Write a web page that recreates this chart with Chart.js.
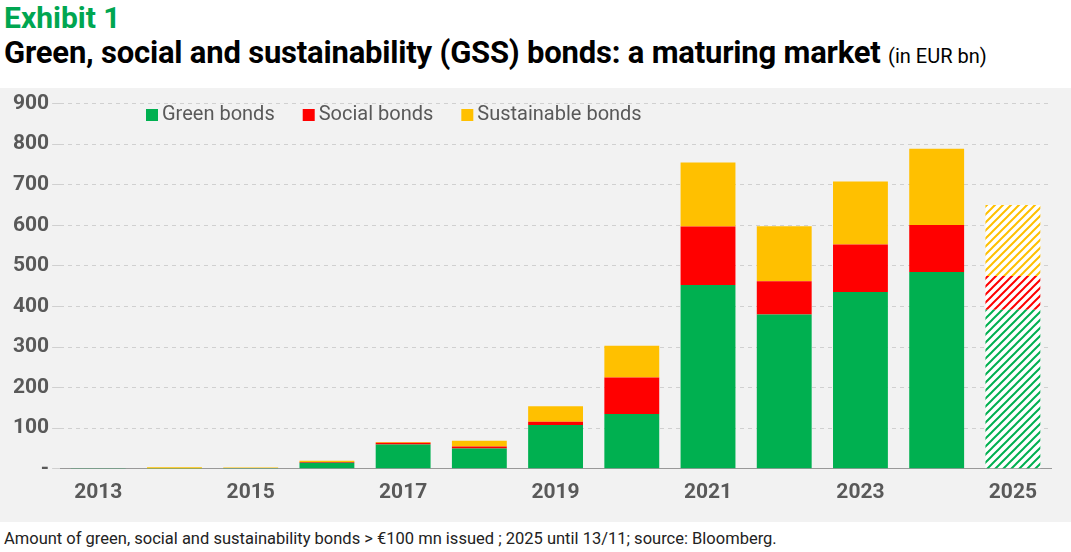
<!DOCTYPE html>
<html><head><meta charset="utf-8">
<script src="https://cdn.jsdelivr.net/npm/chart.js@4"></script>
<style>
body{margin:0;width:1071px;height:552px;background:#fff;font-family:Roboto,sans-serif;overflow:hidden;position:relative}
#t1{position:absolute;left:4px;top:0px;font:bold 30px Roboto;color:#00a651}
#t2{position:absolute;left:4px;top:34px;font:bold 31px Roboto;color:#000;letter-spacing:-0.2px}
#t2 span{font-weight:normal;font-size:20px;letter-spacing:0}
#panel{position:absolute;left:0;top:88px;width:1071px;height:434px;background:#f2f2f2}
#foot{position:absolute;left:4px;top:529px;font:16.5px Roboto;color:#222}
</style></head><body>
<div id="t1">Exhibit 1</div>
<div id="t2">Green, social and sustainability (GSS) bonds: a maturing market <span>(in EUR bn)</span></div>
<div id="panel"><canvas id="c" width="1071" height="434"></canvas></div>
<div id="foot">Amount of green, social and sustainability bonds &gt; €100 mn issued ; 2025 until 13/11; source: Bloomberg.</div>
<script>
const years = ['2013','2014','2015','2016','2017','2018','2019','2020','2021','2022','2023','2024','2025'];
const green = [2, 1, 2, 15, 60, 50, 108, 135, 453, 380, 436, 485, 392];
const social = [0, 0, 0, 2, 4, 5, 8, 90, 144, 82, 117, 116, 83];
const sustainable = [0, 3, 1, 3, 2, 14, 38, 78, 158, 136, 155, 188, 175];
const legendItems = [['Green bonds', '#00b050'], ['Social bonds', '#ff0000'], ['Sustainable bonds', '#ffc000']];

function hatch(color) {
    const p = document.createElement('canvas');
    p.width = 8; p.height = 8;
    const g = p.getContext('2d');
    g.fillStyle = '#fff'; g.fillRect(0, 0, 8, 8);
    g.strokeStyle = color; g.lineWidth = 2;
    g.beginPath();
    g.moveTo(0, 8); g.lineTo(8, 0);
    g.moveTo(-2, 2); g.lineTo(2, -2);
    g.moveTo(6, 10); g.lineTo(10, 6);
    g.stroke();
    return g.createPattern(p, 'repeat');
}
const fills = (c) => years.map((y, i) => i === years.length - 1 ? hatch(c) : c);

new Chart(document.getElementById('c'), {
    type: 'bar',
    data: {
        labels: years,
        datasets: legendItems.map(([label, c], k) => ({
            label, data: [green, social, sustainable][k], backgroundColor: fills(c),
        })),
    },
    options: {
        responsive: false,
        animation: false,
        layout: { padding: { left: 10, right: 20, top: 8, bottom: 14 } },
        datasets: { bar: { categoryPercentage: 0.72, barPercentage: 1 } },
        scales: {
            x: {
                stacked: true,
                grid: { display: false },
                border: { color: '#999' },
                ticks: {
                    autoSkip: false, maxRotation: 0,
                    color: '#595959', font: { size: 21, weight: 'bold', family: 'Roboto' },
                    callback: (v, i) => i % 2 === 0 ? years[i] : '',
                },
            },
            y: {
                stacked: true, min: 0, max: 900,
                border: { display: false, dash: [4, 4] },
                grid: { color: '#d0d0d0' },
                ticks: {
                    stepSize: 100,
                    color: '#595959', font: { size: 21, weight: 'bold', family: 'Roboto' },
                    callback: v => v === 0 ? '-' : v,
                },
            },
        },
        plugins: {
            legend: { display: false },
            tooltip: { enabled: false },
        },
    },
    plugins: [{
        id: 'manualLegend',
        afterDraw(chart) {
            const ctx = chart.ctx;
            ctx.save();
            ctx.font = '20px Roboto';
            ctx.textBaseline = 'middle';
            let x = 146;
            legendItems.forEach(([t, c]) => {
                ctx.fillStyle = c;
                ctx.fillRect(x, 21, 12, 12);
                ctx.fillStyle = '#595959';
                ctx.fillText(t, x + 16, 27);
                x += 16 + ctx.measureText(t).width + 28;
            });
            ctx.restore();
        },
    }],
});
</script>
</body></html>
